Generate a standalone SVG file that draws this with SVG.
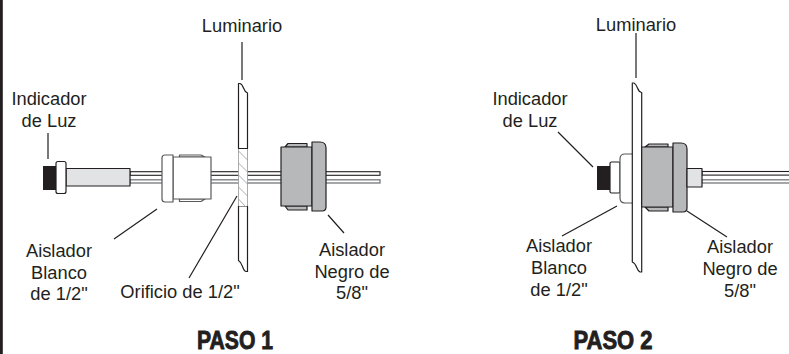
<svg xmlns="http://www.w3.org/2000/svg" width="789" height="354" viewBox="0 0 789 354">
<style>
text{font-family:"Liberation Sans",Arial,sans-serif;font-size:18.3px;fill:#231f20;text-anchor:middle}
.step{font-family:"Liberation Sans Narrow","Liberation Sans",sans-serif;font-size:26px;font-weight:bold;stroke:#231f20;stroke-width:.9}
.o{stroke:#231f20;stroke-width:1.2;fill:#fff;stroke-linejoin:round}
.s{stroke:#58595b;stroke-width:1.2;fill:#fff;stroke-linejoin:round}
.g{fill:#b7b8ba}
.l{fill:#e2e3e4}
.k{fill:#231f20;stroke:none}
.w1{fill:#fff;stroke:#231f20;stroke-width:1.1}
.w2{fill:#fff;stroke:#77787b;stroke-width:1.3}
.ld{stroke:#231f20;stroke-width:1.2;fill:none}
.h{stroke:#939598;stroke-width:.8;fill:none}
</style>
<rect x="0" y="0" width="2.8" height="354" fill="#231f20"/>
<g id="connectors">
<path class="ld" d="M48 133V159M114 239L157 209M189 278L237 196M328 215L344 233M242 42V80"/>
<path class="ld" d="M636 33V78M558 132L593 167M562 236L617 206M687 211L727 237"/>
</g>
<g id="wires-1">
<rect class="w1" x="130" y="171.7" width="250" height="3.6"/>
<rect class="w2" x="130" y="179.8" width="250" height="3.2"/>
</g>
<g id="wires-2">
<rect class="w1" x="702" y="171.5" width="90" height="3.6"/>
<rect class="w2" x="702" y="179.8" width="90" height="3.2"/>
</g>
<g id="indicador-1">
<rect class="k" x="43" y="166" width="13" height="24"/>
<rect class="o l" x="66" y="168.5" width="64" height="17.5"/>
<rect class="o" x="56" y="161.5" width="10" height="32" rx="2"/>
</g>
<g id="aislador-blanco-1">
<path class="s" d="M179.500 157V155H201L205 157ZM179.500 199V201.500H201L205 199Z"/>
<rect class="s" x="173" y="157" width="38" height="42"/>
<path class="s" d="M173 155H165Q162 155 162 158V199Q162 202 165 202H173Z"/>
</g>
<g id="luminario-1">
<path class="o" d="M238.5 148.5V83.5L240 83.5Q242 84 243.500 88Q245 92 247.500 93V148.500H238.500Z"/>
<path class="o" d="M238.500 206H247.500V271.500H246Q244 271 242.500 266.500Q241 262 238.500 260.500V206Z"/>
<rect x="238.500" y="149" width="9" height="57" fill="#fff"/>
<path class="h" d="M238.500 149V206M247.500 149V206M238.500 151L247.500 160M238.500 163L247.500 172M238.500 175L247.500 184M238.500 187L247.500 196M238.500 199L245 206"/>
</g>
<g id="aislador-negro-1">
<path class="o g" d="M285 147L288 143.500H307V147ZM285 206L288 210H307V206Z"/>
<rect class="o g" x="281" y="147" width="31" height="59"/>
<path class="o g" d="M312 142H320Q326 142 326 148V207Q326 211 322 211H312Z"/>
</g>
<g id="indicador-2">
<rect class="k" x="597" y="166" width="13" height="24"/>
<rect class="o" x="610" y="162" width="10" height="31" rx="1.500"/>
</g>
<g id="aislador-blanco-2">
<path class="s" d="M632.300 154H625Q620 154 620 159V198Q620 203 625 203H632.300"/>
</g>
<g id="luminario-2">
<path class="o" d="M632.300 83H634Q636 84 637.500 88Q639 92 641.700 92.500V272H640Q638 271 636.500 267Q635 263 632.300 262Z"/>
</g>
<g id="aislador-negro-2">
<path class="o g" d="M645 147L649 144H668V147ZM645 207L649 211H668V207Z"/>
<rect class="o g" x="641.700" y="147" width="31.300" height="60"/>
<path class="o g" d="M673 143H681Q687 143 687 149V208Q687 212 683 212H673Z"/>
<rect class="o l" x="687" y="168.500" width="15" height="18.500"/>
</g>
<g id="labels-1">
<text x="242" y="32">Luminario</text>
<text x="49" y="105">Indicador</text>
<text x="49" y="127">de Luz</text>
<text x="59" y="257">Aislador</text>
<text x="59" y="278.500">Blanco</text>
<text x="59" y="300">de 1/2"</text>
<text x="180" y="298">Orificio de 1/2"</text>
<text x="352" y="256">Aislador</text>
<text x="352" y="278">Negro de</text>
<text x="352" y="299">5/8"</text>
<text class="step" x="235" y="349" textLength="76" lengthAdjust="spacingAndGlyphs">PASO 1</text>
</g>
<g id="labels-2">
<text x="636" y="31">Luminario</text>
<text x="530" y="105">Indicador</text>
<text x="530" y="127">de Luz</text>
<text x="559" y="252">Aislador</text>
<text x="559" y="274">Blanco</text>
<text x="559" y="296">de 1/2"</text>
<text x="740" y="253">Aislador</text>
<text x="740" y="275">Negro de</text>
<text x="740" y="297">5/8"</text>
<text class="step" x="613" y="349" textLength="79" lengthAdjust="spacingAndGlyphs">PASO 2</text>
</g>
</svg>
